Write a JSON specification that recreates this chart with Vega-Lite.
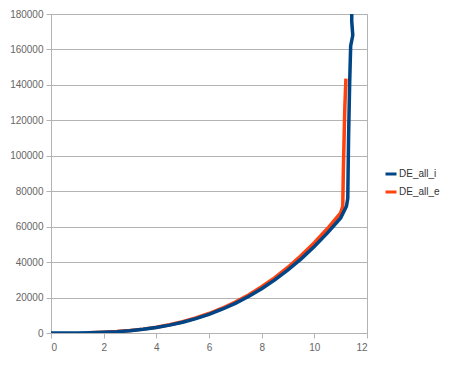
{
  "$schema": "https://vega.github.io/schema/vega-lite/v6.json",
  "width": 316,
  "height": 319,
  "autosize": {"type": "none"},
  "padding": {"left": 51, "top": 14, "right": 83, "bottom": 40},
  "background": "white",
  "config": {
    "view": {"stroke": "#b3b3b3", "strokeWidth": 1},
    "font": "Liberation Sans",
    "axis": {
      "labelFont": "Liberation Sans",
      "labelFontSize": 10,
      "labelColor": "#666666",
      "domainColor": "#b3b3b3",
      "tickColor": "#b3b3b3",
      "gridColor": "#b3b3b3",
      "tickSize": 5,
      "title": null
    },
    "legend": {"labelFont": "Liberation Sans", "labelFontSize": 10, "labelColor": "#333333"}
  },
  "data": {
    "values": [
      {"series": "DE_all_e", "i": 1, "x": 1.4, "y": 120},
      {"series": "DE_all_e", "i": 2, "x": 2.0, "y": 410},
      {"series": "DE_all_e", "i": 3, "x": 2.5, "y": 800},
      {"series": "DE_all_e", "i": 4, "x": 3.0, "y": 1380},
      {"series": "DE_all_e", "i": 5, "x": 3.5, "y": 2180},
      {"series": "DE_all_e", "i": 6, "x": 4.0, "y": 3260},
      {"series": "DE_all_e", "i": 7, "x": 4.5, "y": 4640},
      {"series": "DE_all_e", "i": 8, "x": 5.0, "y": 6360},
      {"series": "DE_all_e", "i": 9, "x": 5.5, "y": 8470},
      {"series": "DE_all_e", "i": 10, "x": 6.0, "y": 11000},
      {"series": "DE_all_e", "i": 11, "x": 6.5, "y": 13980},
      {"series": "DE_all_e", "i": 12, "x": 7.0, "y": 17460},
      {"series": "DE_all_e", "i": 13, "x": 7.5, "y": 21480},
      {"series": "DE_all_e", "i": 14, "x": 8.0, "y": 26080},
      {"series": "DE_all_e", "i": 15, "x": 8.5, "y": 31280},
      {"series": "DE_all_e", "i": 16, "x": 9.0, "y": 37130},
      {"series": "DE_all_e", "i": 17, "x": 9.5, "y": 43660},
      {"series": "DE_all_e", "i": 18, "x": 10.0, "y": 50920},
      {"series": "DE_all_e", "i": 19, "x": 10.5, "y": 58950},
      {"series": "DE_all_e", "i": 20, "x": 11.0, "y": 67780},
      {"series": "DE_all_e", "i": 21, "x": 11.08, "y": 71500},
      {"series": "DE_all_e", "i": 22, "x": 11.1, "y": 90000},
      {"series": "DE_all_e", "i": 23, "x": 11.13, "y": 110000},
      {"series": "DE_all_e", "i": 24, "x": 11.16, "y": 128000},
      {"series": "DE_all_e", "i": 25, "x": 11.2, "y": 143500},
      {"series": "DE_all_i", "i": 1, "x": 0.0, "y": 0},
      {"series": "DE_all_i", "i": 2, "x": 0.5, "y": 5},
      {"series": "DE_all_i", "i": 3, "x": 1.0, "y": 50},
      {"series": "DE_all_i", "i": 4, "x": 1.5, "y": 160},
      {"series": "DE_all_i", "i": 5, "x": 2.0, "y": 390},
      {"series": "DE_all_i", "i": 6, "x": 2.5, "y": 760},
      {"series": "DE_all_i", "i": 7, "x": 3.0, "y": 1320},
      {"series": "DE_all_i", "i": 8, "x": 3.5, "y": 2090},
      {"series": "DE_all_i", "i": 9, "x": 4.0, "y": 3120},
      {"series": "DE_all_i", "i": 10, "x": 4.5, "y": 4450},
      {"series": "DE_all_i", "i": 11, "x": 5.0, "y": 6100},
      {"series": "DE_all_i", "i": 12, "x": 5.5, "y": 8120},
      {"series": "DE_all_i", "i": 13, "x": 6.0, "y": 10540},
      {"series": "DE_all_i", "i": 14, "x": 6.5, "y": 13400},
      {"series": "DE_all_i", "i": 15, "x": 7.0, "y": 16740},
      {"series": "DE_all_i", "i": 16, "x": 7.5, "y": 20590},
      {"series": "DE_all_i", "i": 17, "x": 8.0, "y": 24990},
      {"series": "DE_all_i", "i": 18, "x": 8.5, "y": 29970},
      {"series": "DE_all_i", "i": 19, "x": 9.0, "y": 35580},
      {"series": "DE_all_i", "i": 20, "x": 9.5, "y": 41840},
      {"series": "DE_all_i", "i": 21, "x": 10.0, "y": 48800},
      {"series": "DE_all_i", "i": 22, "x": 10.5, "y": 56490},
      {"series": "DE_all_i", "i": 23, "x": 11.0, "y": 64950},
      {"series": "DE_all_i", "i": 24, "x": 11.22, "y": 71500},
      {"series": "DE_all_i", "i": 25, "x": 11.27, "y": 76000},
      {"series": "DE_all_i", "i": 26, "x": 11.3, "y": 110000},
      {"series": "DE_all_i", "i": 27, "x": 11.34, "y": 140000},
      {"series": "DE_all_i", "i": 28, "x": 11.38, "y": 162000},
      {"series": "DE_all_i", "i": 29, "x": 11.46, "y": 168000},
      {"series": "DE_all_i", "i": 30, "x": 11.42, "y": 176000},
      {"series": "DE_all_i", "i": 31, "x": 11.43, "y": 195000}
    ]
  },
  "mark": {"type": "line", "clip": true, "strokeWidth": 3.5, "strokeJoin": "miter"},
  "encoding": {
    "x": {
      "field": "x", "type": "quantitative",
      "scale": {"domain": [0, 12], "nice": false},
      "axis": {"values": [0, 2, 4, 6, 8, 10, 12], "grid": false, "labelPadding": 4}
    },
    "y": {
      "field": "y", "type": "quantitative",
      "scale": {"domain": [0, 180000], "nice": false},
      "axis": {"values": [0, 20000, 40000, 60000, 80000, 100000, 120000, 140000, 160000, 180000], "format": "d", "labelPadding": 3, "gridWidth": 1}
    },
    "color": {
      "field": "series", "type": "nominal",
      "scale": {"domain": ["DE_all_i", "DE_all_e"], "range": ["#004586", "#ff420e"]},
      "legend": {
        "title": null,
        "orient": "none",
        "legendX": 333,
        "legendY": 153,
        "symbolType": "stroke",
        "symbolSize": 121,
        "symbolStrokeWidth": 3,
        "labelOffset": 1,
        "rowPadding": 5
      }
    },
    "detail": {"field": "series"},
    "order": {"field": "i", "type": "quantitative"},
    "zIndex": {"value": 1}
  }
}
